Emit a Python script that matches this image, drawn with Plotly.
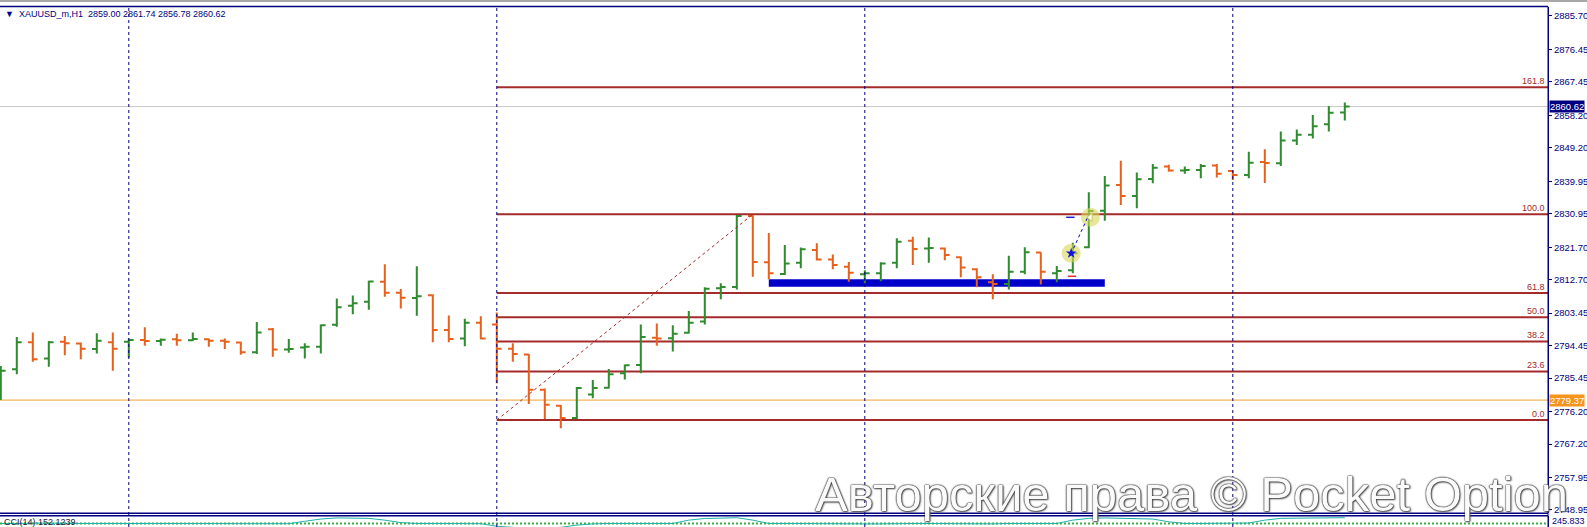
import plotly.graph_objects as go

# ---------------- data (H1 bars, XAUUSD_m) ----------------
opens = [2780.8, 2787.9, 2795.4, 2790.9, 2795.5, 2795.0, 2793.5, 2795.4, 2795.5, 2796.0,
         2795.7, 2796.2, 2795.9, 2796.2, 2795.8, 2795.3, 2792.6, 2799.0, 2793.4, 2793.9,
         2794.1, 2800.2, 2805.5, 2806.6, 2812.1, 2809.1, 2807.6, 2808.4, 2798.8, 2796.4,
         2800.8, 2800.3, 2793.6, 2792.0, 2782.2, 2777.8, 2774.4, 2780.9, 2782.8, 2786.8,
         2789.1, 2796.6, 2796.5, 2798.0, 2801.1, 2810.3, 2810.7, 2830.3, 2817.5, 2814.3,
         2817.4, 2820.9, 2818.3, 2816.3, 2814.2, 2814.5, 2817.4, 2823.5, 2821.3, 2821.3,
         2818.9, 2815.6, 2812.0, 2811.5, 2814.9, 2820.2, 2814.5, 2815.3, 2821.7, 2831.8,
         2838.9, 2835.9, 2840.6, 2844.0, 2842.9, 2843.1, 2844.3, 2842.8, 2841.7, 2845.3,
         2844.9, 2851.2, 2852.8, 2855.7, 2859.00]
highs = [2788.8, 2796.8, 2798.1, 2795.7, 2797.1, 2795.3, 2797.9, 2798.1, 2796.4, 2799.5,
         2796.4, 2797.7, 2798.1, 2796.4, 2796.4, 2795.5, 2801.0, 2799.3, 2796.3, 2795.1,
         2800.3, 2807.5, 2808.3, 2812.4, 2817.0, 2810.1, 2816.4, 2808.7, 2802.8, 2801.9,
         2802.6, 2803.6, 2795.1, 2792.1, 2782.6, 2778.0, 2783.0, 2784.9, 2788.0, 2789.2,
         2800.3, 2800.6, 2800.1, 2804.0, 2810.6, 2811.7, 2830.6, 2830.6, 2825.6, 2822.3,
         2821.6, 2822.8, 2819.7, 2817.6, 2815.3, 2817.5, 2824.2, 2824.6, 2824.4, 2821.6,
         2819.1, 2815.9, 2814.2, 2819.3, 2821.7, 2820.3, 2816.5, 2822.9, 2836.9, 2841.4,
         2845.6, 2842.4, 2844.7, 2844.5, 2844.0, 2844.7, 2844.7, 2843.1, 2848.1, 2848.8,
         2853.7, 2854.3, 2858.3, 2860.8, 2861.74]
lows = [2779.4, 2786.5, 2790.0, 2788.6, 2791.8, 2790.7, 2792.3, 2787.5, 2791.1, 2794.4,
        2794.4, 2794.4, 2795.7, 2794.1, 2793.5, 2791.9, 2792.1, 2791.4, 2792.5, 2790.9,
        2792.3, 2799.7, 2803.1, 2804.4, 2808.0, 2804.7, 2802.7, 2795.4, 2795.4, 2794.3,
        2796.2, 2784.0, 2790.0, 2778.3, 2774.1, 2771.6, 2774.1, 2779.9, 2782.6, 2785.1,
        2786.8, 2794.4, 2792.8, 2797.8, 2800.3, 2807.3, 2810.0, 2813.5, 2812.8, 2814.0,
        2815.9, 2818.0, 2815.6, 2812.1, 2811.7, 2812.3, 2815.9, 2816.8, 2817.4, 2818.1,
        2813.4, 2810.6, 2807.3, 2810.0, 2814.2, 2811.4, 2812.0, 2814.5, 2821.4, 2829.0,
        2833.4, 2832.5, 2839.4, 2842.6, 2842.0, 2840.8, 2841.0, 2840.3, 2840.8, 2839.5,
        2844.2, 2850.0, 2851.8, 2853.7, 2856.78]
closes = [2787.5, 2795.4, 2790.7, 2795.4, 2795.1, 2793.6, 2795.8, 2793.6, 2796.0, 2795.7,
          2796.1, 2795.9, 2796.3, 2795.8, 2795.5, 2792.6, 2798.1, 2793.4, 2793.5, 2794.1,
          2800.1, 2805.1, 2806.2, 2812.2, 2809.1, 2807.7, 2808.1, 2798.8, 2796.3, 2800.8,
          2796.4, 2793.6, 2792.1, 2782.2, 2778.1, 2774.4, 2782.7, 2782.7, 2786.5, 2789.0,
          2796.8, 2796.4, 2797.7, 2800.8, 2810.2, 2810.7, 2830.3, 2817.6, 2814.5, 2817.2,
          2821.1, 2818.3, 2816.8, 2814.6, 2814.5, 2817.2, 2823.2, 2821.2, 2821.5, 2819.5,
          2816.1, 2813.4, 2811.5, 2814.9, 2820.3, 2814.9, 2815.1, 2820.0, 2831.7, 2838.8,
          2835.9, 2840.5, 2843.7, 2842.9, 2843.1, 2844.2, 2842.0, 2841.7, 2845.1, 2845.0,
          2851.2, 2852.8, 2855.2, 2858.9, 2860.62]

cci = [100, 98, 104, 100, 102, 100, 100, 98, 100, 100,
       100, 100, 100, 100, 98, 96, 100, 100, 98, 120,
       140, 150, 148, 146, 130, 108, 100, 98, 96, 100,
       98, 75, 60, 55, 55, 65, 85, 96, 100, 100,
       102, 100, 100, 130, 145, 148, 152, 130, 100, 100,
       98, 100, 100, 98, 96, 96, 100, 100, 100, 98,
       96, 96, 96, 100, 100, 98, 100, 130, 146, 150,
       146, 144, 140, 115, 100, 100, 100, 98, 104, 130,
       146, 148, 148, 150, 152.1239]

day_separators = [8, 31, 54, 77]
y_tick_values = [2885.70, 2876.45, 2867.45, 2858.20, 2849.20, 2839.95, 2830.95, 2821.70,
                 2812.70, 2803.45, 2794.45, 2785.45, 2776.20, 2767.20, 2757.95, 2748.95]
y_tick_labels = ["2885.70", "2876.45", "2867.45", "2858.20", "2849.20", "2839.95", "2830.95", "2821.70",
                 "2812.70", "2803.45", "2794.45", "2785.45", "2776.20", "2767.20", "2757.95", "2748.95"]

fib_start_bar, fib_end_bar = 31, 47
fib_price_0, fib_price_100 = 2773.85, 2830.80
fib_levels = [0.0, 23.6, 38.2, 50.0, 61.8, 100.0, 161.8]
fib_labels = ["0.0", "23.6", "38.2", "50.0", "61.8", "100.0", "161.8"]

zone_bars = [48, 69]
zone_prices = [2810.75, 2812.80]
last_price = 2860.62
orange_level = 2779.37
trade_circles_x = [66.9, 68.1]
trade_circles_y = [2820.0, 2829.97]

# ---------------- figure ----------------
W, H = 1587, 527
NAVY = "#000080"
GREEN = "#2E8B2E"
ORANGE = "#E8601C"
FIB = "#A52A2A"
FONT = "Liberation Sans, Arial, sans-serif"

x_idx = list(range(len(opens)))
xmax = 96.7
xmin = -0.05
ymin, ymax = 2748.11, 2888.19
main_dom = [14 / H, (H - 7) / H]
sub_dom = [0, 11.5 / H]

fig = go.Figure()

fig.add_trace(go.Ohlc(
    x=x_idx, open=opens, high=highs, low=lows, close=closes,
    increasing=dict(line=dict(color=GREEN, width=2)),
    decreasing=dict(line=dict(color=ORANGE, width=2)),
    tickwidth=0.3, showlegend=False, hoverinfo="skip",
    xaxis="x", yaxis="y"))

# dotted fib trend line
fig.add_trace(go.Scatter(
    x=[fib_start_bar, fib_end_bar], y=[fib_price_0, fib_price_100],
    mode="lines", line=dict(color=FIB, width=1, dash="dot"),
    showlegend=False, hoverinfo="skip", xaxis="x", yaxis="y"))

# trade markers
fig.add_trace(go.Scatter(
    x=trade_circles_x, y=trade_circles_y, mode="markers",
    marker=dict(size=19, color="rgba(215,215,90,0.6)", line=dict(width=0)),
    showlegend=False, hoverinfo="skip", xaxis="x", yaxis="y"))
fig.add_trace(go.Scatter(
    x=[67.05, 67.9], y=[2821.4, 2829.7], mode="lines",
    line=dict(color="#0000CC", width=1, dash="dot"),
    showlegend=False, hoverinfo="skip", xaxis="x", yaxis="y"))
fig.add_trace(go.Scatter(
    x=[trade_circles_x[0]], y=[trade_circles_y[0]], mode="markers",
    marker=dict(size=8, symbol="star", color="#1010E0"),
    showlegend=False, hoverinfo="skip", xaxis="x", yaxis="y"))
fig.add_trace(go.Scatter(
    x=[trade_circles_x[1]], y=[trade_circles_y[1]], mode="markers",
    marker=dict(size=7, symbol="triangle-left", color="#FFFFF0",
                line=dict(color="#C8C870", width=1)),
    showlegend=False, hoverinfo="skip", xaxis="x", yaxis="y"))
fig.add_trace(go.Scatter(
    x=[66.85, 66.95], y=[2829.97, 2813.64], mode="markers",
    marker=dict(size=6, symbol="line-ew", line=dict(color=["#2020D0", "#E03030"], width=1.5)),
    showlegend=False, hoverinfo="skip", xaxis="x", yaxis="y"))

# CCI subwindow
fig.add_trace(go.Scatter(
    x=[xmin, xmax], y=[100, 100], mode="lines",
    line=dict(color="#3CB043", width=2, dash="2px,2px"),
    showlegend=False, hoverinfo="skip", xaxis="x", yaxis="y2"))
fig.add_trace(go.Scatter(
    x=x_idx, y=cci, mode="lines", line=dict(color="#20B2AA", width=1),
    showlegend=False, hoverinfo="skip", xaxis="x", yaxis="y2"))

shapes = []
# fib levels
for lv in fib_levels:
    p = fib_price_0 + lv / 100.0 * (fib_price_100 - fib_price_0)
    shapes.append(dict(type="line", xref="x", yref="y", x0=fib_start_bar, x1=xmax, y0=p, y1=p,
                       line=dict(color=FIB, width=2), layer="below"))
# horizontal lines
shapes.append(dict(type="line", xref="paper", yref="y", x0=0, x1=1, y0=last_price, y1=last_price,
                   line=dict(color="#C8C8C8", width=1), layer="below"))
shapes.append(dict(type="line", xref="paper", yref="y", x0=0, x1=1, y0=orange_level, y1=orange_level,
                   line=dict(color="#F0A030", width=1), layer="below"))
# blue zone
shapes.append(dict(type="rect", xref="x", yref="y", x0=zone_bars[0], x1=zone_bars[1],
                   y0=zone_prices[0], y1=zone_prices[1], fillcolor="#0000C8",
                   line=dict(width=0), layer="below"))
# day separators
for d in day_separators:
    shapes.append(dict(type="line", xref="x", yref="paper", x0=d, x1=d, y0=0, y1=main_dom[1],
                       line=dict(color=NAVY, width=1, dash="3px,3px"), layer="above"))
# frame lines
shapes.append(dict(type="line", xref="paper", yref="paper", x0=0, x1=1, y0=(H - 6.5) / H, y1=(H - 6.5) / H,
                   line=dict(color=NAVY, width=1.5)))
shapes.append(dict(type="line", xref="paper", yref="paper", x0=0, x1=1.03, y0=(H - 1) / H, y1=(H - 1) / H,
                   line=dict(color="#A8A8A8", width=2)))
shapes.append(dict(type="line", xref="paper", yref="paper", x0=0, x1=1, y0=(H - 513.3) / H, y1=(H - 513.3) / H,
                   line=dict(color=NAVY, width=1.5)))
shapes.append(dict(type="line", xref="paper", yref="paper", x0=0, x1=1, y0=(H - 515.7) / H, y1=(H - 515.7) / H,
                   line=dict(color=NAVY, width=1.5)))
shapes.append(dict(type="line", xref="paper", yref="paper", x0=1, x1=1, y0=0, y1=(H - 6.5) / H,
                   line=dict(color=NAVY, width=1)))

annotations = []
for lv, lab in zip(fib_levels, fib_labels):
    p = fib_price_0 + lv / 100.0 * (fib_price_100 - fib_price_0)
    annotations.append(dict(x=1, y=p, xref="paper", yref="y", text=lab, showarrow=False,
                            xanchor="right", yanchor="bottom", xshift=-1, yshift=-1,
                            font=dict(family=FONT, size=9, color=FIB)))
annotations.append(dict(x=1, y=last_price, xref="paper", yref="y", text="2860.62", showarrow=False,
                        xanchor="left", yanchor="middle", xshift=1, bgcolor=NAVY, borderpad=0,
                        font=dict(family=FONT, size=9.5, color="white")))
annotations.append(dict(x=1, y=orange_level, xref="paper", yref="y", text="2779.37", showarrow=False,
                        xanchor="left", yanchor="middle", xshift=1, bgcolor="#F7941D", borderpad=0,
                        font=dict(family=FONT, size=9.5, color="white")))
annotations.append(dict(x=0, y=(H - 14.5) / H, xref="paper", yref="paper",
                        text="▼  XAUUSD_m,H1  2859.00 2861.74 2856.78 2860.62", showarrow=False,
                        xanchor="left", yanchor="middle", xshift=3,
                        font=dict(family=FONT, size=9, color=NAVY)))
annotations.append(dict(x=0, y=(H - 522) / H, xref="paper", yref="paper",
                        text="CCI(14) 152.1239", showarrow=False,
                        xanchor="left", yanchor="middle", xshift=2,
                        font=dict(family=FONT, size=9, color="#202040")))
annotations.append(dict(x=1, y=(H - 521) / H, xref="paper", yref="paper",
                        text="245.833", showarrow=False,
                        xanchor="left", yanchor="middle", xshift=2,
                        font=dict(family=FONT, size=9, color=NAVY)))
annotations.append(dict(x=813 / 1548, y=(H - 494) / H, xref="paper", yref="paper",
                        text="Авторские права © Pocket Option", showarrow=False,
                        xanchor="left", yanchor="middle",
                        font=dict(family=FONT, size=49, color="#FAFAFA",
                                  shadow="0px 0px 1px #202020, 0px 0px 1px #202020, 0px 0px 2px #404040, 1px 1px 2px #606060")))

fig.update_layout(
    width=W, height=H,
    margin=dict(l=0, r=W - 1548, t=0, b=0, pad=0),
    paper_bgcolor="white", plot_bgcolor="white",
    showlegend=False,
    xaxis=dict(range=[xmin, xmax], domain=[0, 1], showgrid=False, zeroline=False,
               showticklabels=False, ticks="", showline=False, rangeslider=dict(visible=False),
               fixedrange=True, anchor="y"),
    yaxis=dict(domain=main_dom, range=[ymin, ymax], side="right", anchor="x",
               showgrid=False, zeroline=False, showline=True, linecolor=NAVY, linewidth=1,
               ticks="outside", ticklen=3, tickcolor=NAVY, tickwidth=1,
               tickvals=y_tick_values, ticktext=y_tick_labels, automargin=False,
               tickfont=dict(family=FONT, size=9.5, color=NAVY), fixedrange=True),
    yaxis2=dict(domain=sub_dom, range=[68, 172], side="right", anchor="x",
                showgrid=False, zeroline=False, showline=True, linecolor=NAVY,
                showticklabels=False, ticks="", automargin=False, fixedrange=True),
    shapes=shapes, annotations=annotations,
)

fig.write_html("out.html", config={"displayModeBar": False},
               post_script="document.body.style.margin='0px';document.body.style.padding='0px';"
                           "document.body.style.overflow='hidden';")
